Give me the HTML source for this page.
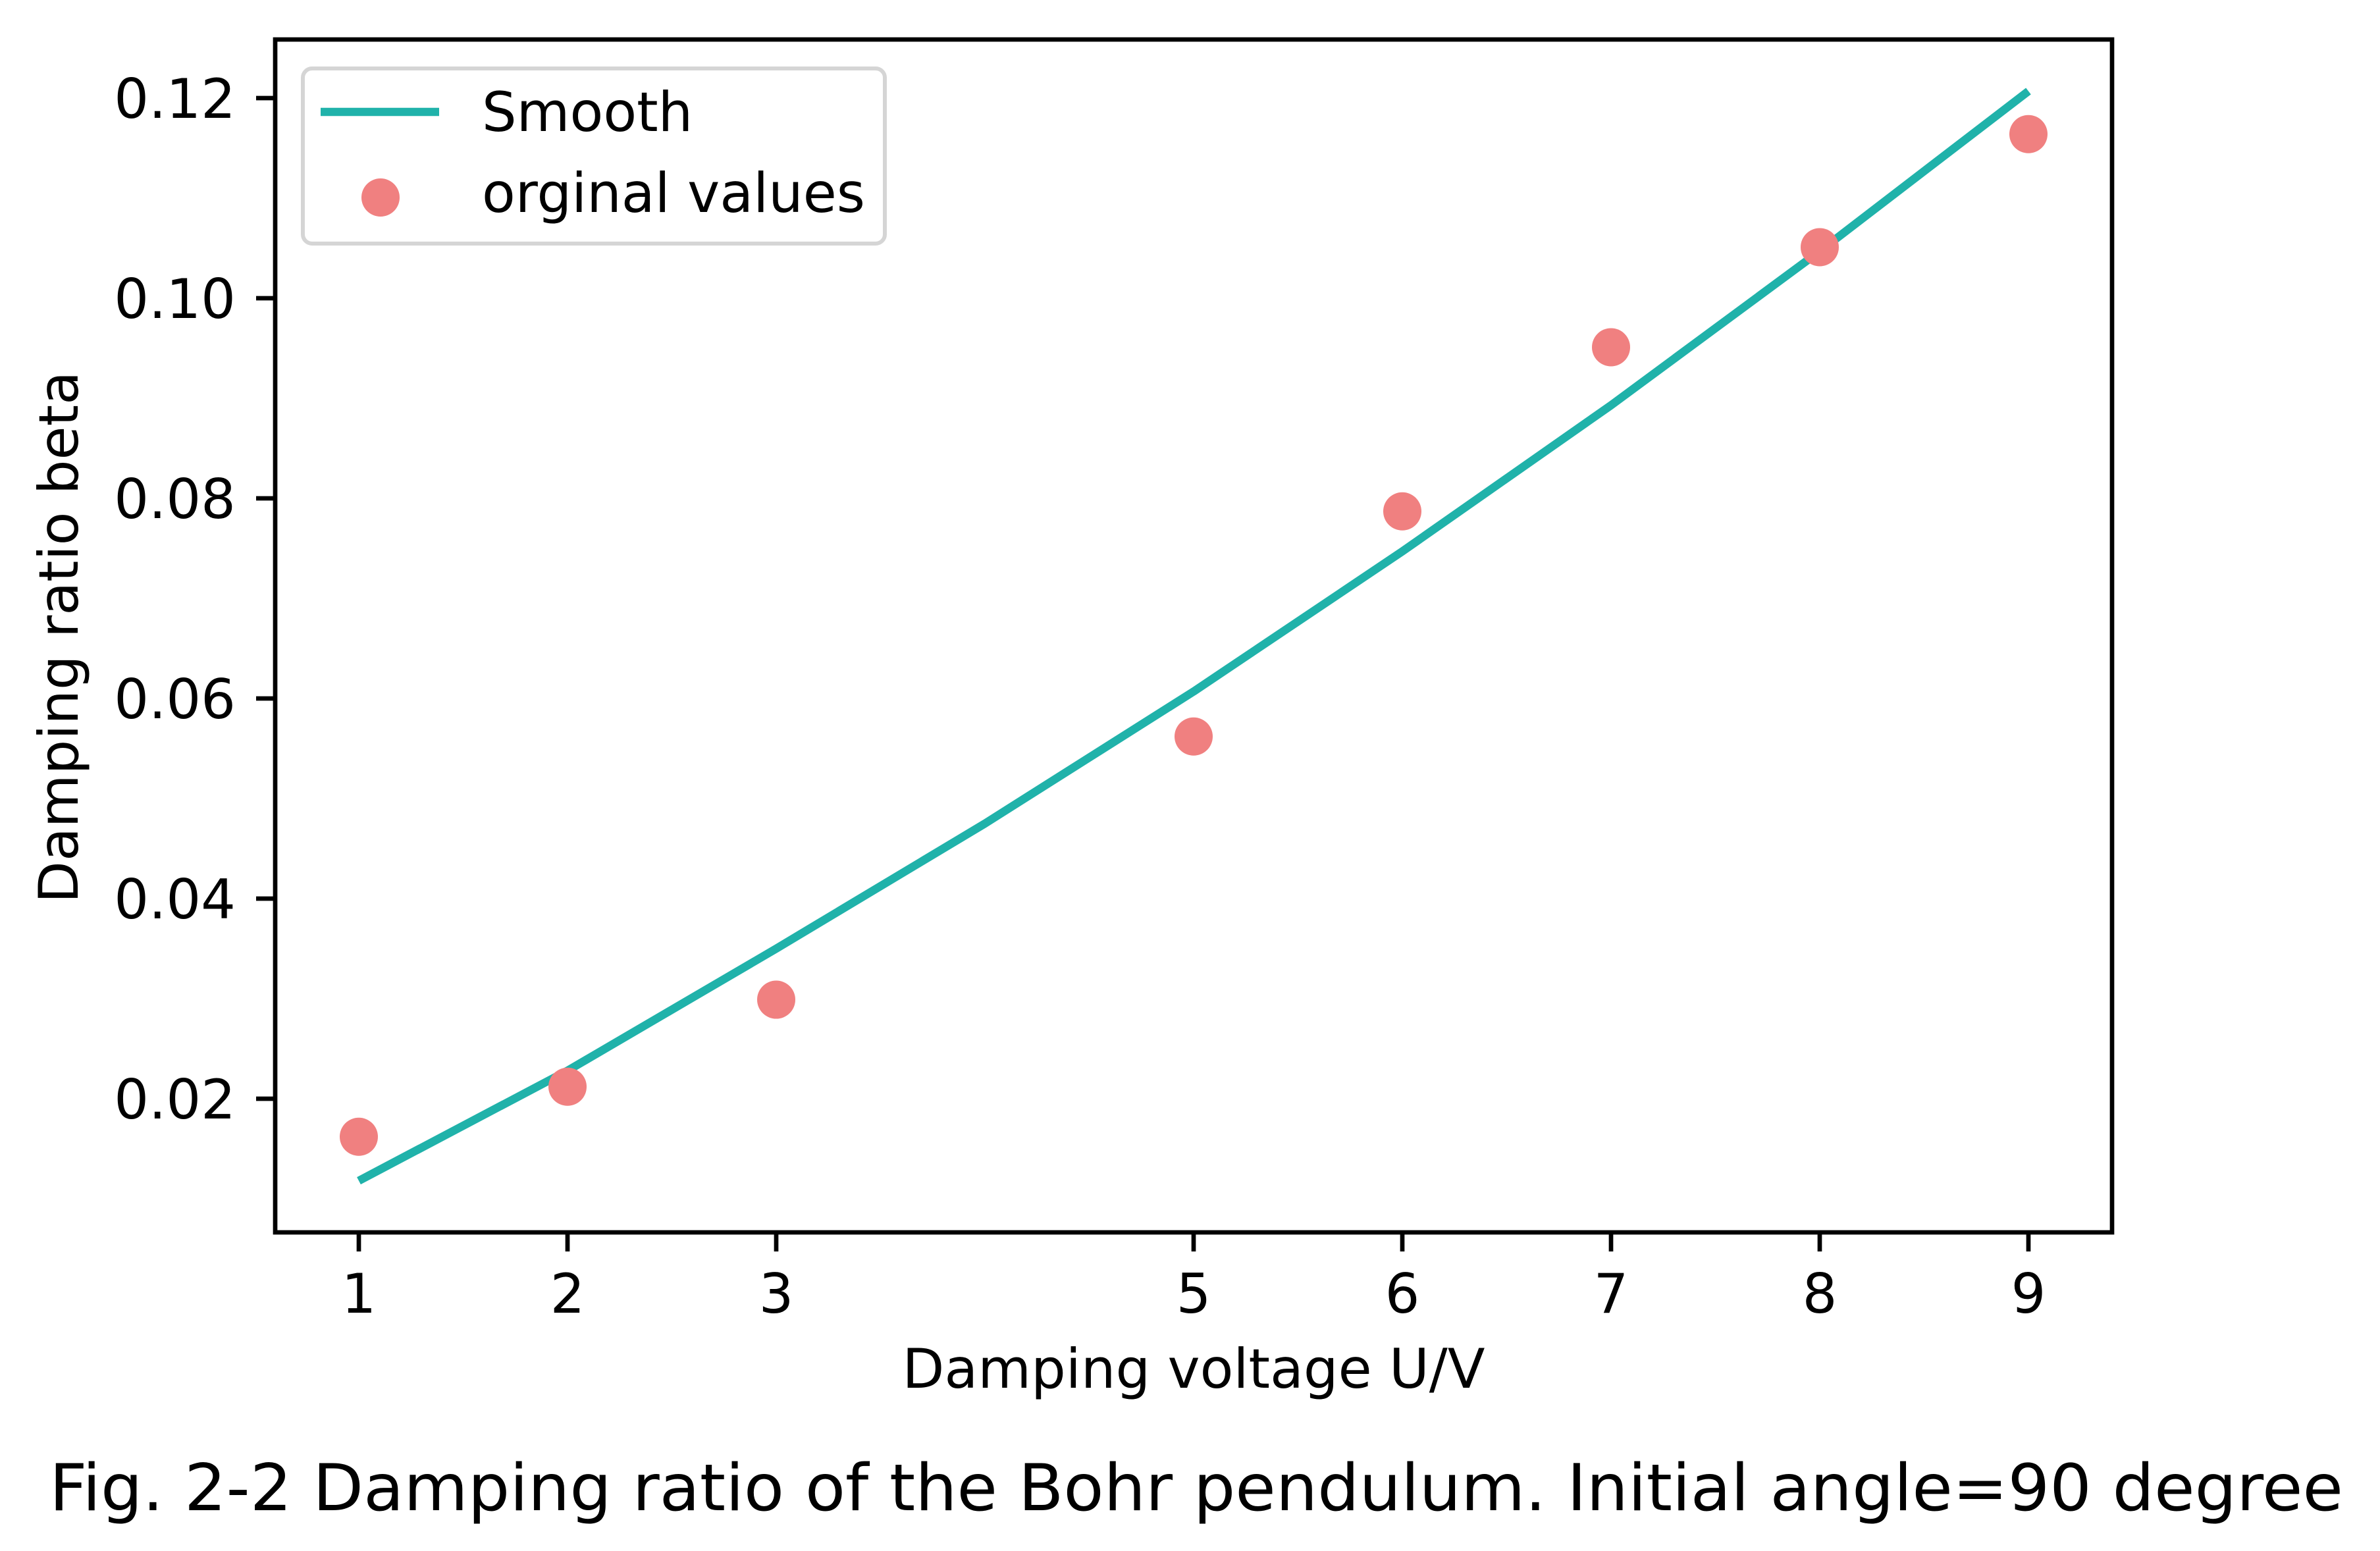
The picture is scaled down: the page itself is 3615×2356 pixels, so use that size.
<!DOCTYPE html>
<html><head><meta charset="utf-8"><style>
html,body{margin:0;padding:0;background:#fff}
svg{display:block;font-family:"DejaVu Sans","Liberation Sans",sans-serif}
</style></head><body>
<svg id="chart" width="3615" height="2356" viewBox="0 0 3615 2356" xmlns="http://www.w3.org/2000/svg">
<rect x="0" y="0" width="3615" height="2356" fill="#fff"/>
<g id="plot"></g>
<g id="axes"></g>
<text x="1813" y="2108" font-size="83" text-anchor="middle">Damping voltage U/V</text>
<text x="0" y="0" font-size="83" text-anchor="middle" transform="translate(118,968) rotate(-90)">Damping ratio beta</text>
<text x="75" y="2294" font-size="98" textLength="3484" lengthAdjust="spacingAndGlyphs">Fig. 2-2 Damping ratio of the Bohr pendulum. Initial angle=90 degree</text>
<g>
<rect x="460" y="104" width="884" height="266" rx="14" fill="#fff" fill-opacity="0.8" stroke="#d5d5d5" stroke-width="6"/>
<line x1="487" y1="170" x2="667" y2="170" stroke="#20b2aa" stroke-width="12.5"/>
<text x="732" y="199" font-size="83">Smooth</text>
<circle cx="578" cy="300" r="29" fill="#f08080"/>
<text x="732" y="322" font-size="83">orginal values</text>
</g>
</svg>
<script>
const xValues = [1, 2, 3, 5, 6, 7, 8, 9];
const betaValues = [0.0162, 0.0212, 0.0299, 0.0562, 0.0787, 0.0951, 0.1051, 0.1164];
const smoothX = [1, 2, 3, 4, 5, 6, 7, 8, 9];
const smoothY = [0.0118, 0.0228, 0.0350, 0.0475, 0.0607, 0.0747, 0.0893, 0.1047, 0.1207];
const xTicks = [1, 2, 3, 5, 6, 7, 8, 9];
const yTicks = [0.02, 0.04, 0.06, 0.08, 0.10, 0.12];
const yTickLabels = ["0.02", "0.04", "0.06", "0.08", "0.10", "0.12"];

const L = 418, R = 3208, T = 60, B = 1872;
function sx(v) { return 545 + (v - 1) * (3081 - 545) / 8; }
function sy(v) { return 149 + (0.12 - v) * (453 - 149) / 0.02; }
const NS = "http://www.w3.org/2000/svg";
const plot = document.getElementById('plot');
const axes = document.getElementById('axes');
function mk(tag, attrs, parent) {
  const e = document.createElementNS(NS, tag);
  for (const k in attrs) e.setAttribute(k, attrs[k]);
  parent.appendChild(e);
  return e;
}
let d = '';
smoothX.forEach((x, i) => { d += (i ? 'L' : 'M') + sx(x).toFixed(1) + ',' + sy(smoothY[i]).toFixed(1); });
const line = mk('path', {d: d, fill: 'none', stroke: '#20b2aa', 'stroke-width': 12.5, 'stroke-linejoin': 'round'}, plot);


xValues.forEach((x, i) => {
  const c = mk('circle', {cx: sx(x), cy: sy(betaValues[i]), r: 29, fill: '#f08080'}, plot);
  
  
});
const fr = mk('rect', {x: L, y: T, width: R - L, height: B - T, fill: 'none', stroke: '#000', 'stroke-width': 6.7}, axes);


xTicks.forEach(v => {
  const x = sx(v);
  const t = mk('line', {x1: x, y1: B, x2: x, y2: B + 29, stroke: '#000', 'stroke-width': 6.7}, axes);
  
  
  const lb = mk('text', {x: x, y: 1994, 'font-size': 83, 'text-anchor': 'middle'}, axes);
  lb.textContent = String(v);
  
  
});
yTicks.forEach((v, i) => {
  const y = sy(v);
  const t = mk('line', {x1: L - 29, y1: y, x2: L, y2: y, stroke: '#000', 'stroke-width': 6.7}, axes);
  
  
  const lb = mk('text', {x: 358, y: y + 30, 'font-size': 83, 'text-anchor': 'end'}, axes);
  lb.textContent = yTickLabels[i];
  
  
});
</script>
</body></html>
